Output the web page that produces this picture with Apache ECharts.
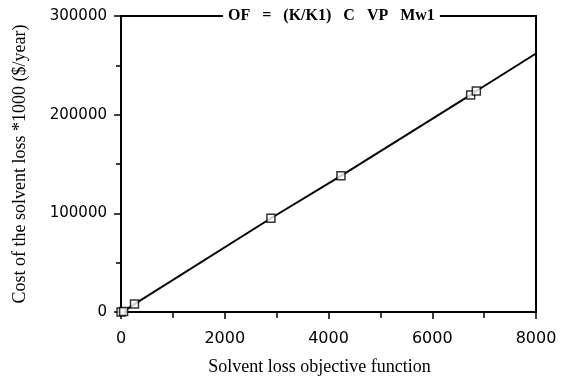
<!DOCTYPE html>
<html>
<head>
<meta charset="utf-8">
<script src="https://cdn.jsdelivr.net/npm/echarts@6/dist/echarts.min.js"></script>
<style>
  html, body { margin: 0; padding: 0; background: #fff; }
  #chart { width: 568px; height: 381px; }
</style>
</head>
<body>
<div id="chart"></div>
<script>
// Solvent loss objective function vs. yearly cost of the lost solvent
const objective = [0, 50, 260, 2890, 4240, 6740, 6850];
const cost = [0, 500, 8000, 95000, 138000, 220000, 224000];
// fitted line continues to the right edge of the plot
const lineEndX = 8000;
const lineEndY = 262000;

const titleText = 'OF   =   (K/K1)   C   VP   Mw1';
const xName = 'Solvent loss objective function';
const yName = 'Cost of the solvent loss *1000 ($/year)';

const points = objective.map((x, i) => [x, cost[i]]);
const linePoints = points.concat([[lineEndX, lineEndY]]);

const serif = '"Liberation Serif", "DejaVu Serif", serif';
const sans = '"DejaVu Sans", sans-serif';
const plain = v => String(v);

const chart = echarts.init(document.getElementById('chart'));
chart.setOption({
  animation: false,
  backgroundColor: '#fff',
  title: {
    text: titleText,
    left: 223,
    top: 8,
    padding: [0, 5],
    backgroundColor: '#fff',
    textStyle: { fontFamily: serif, fontWeight: 'bold', fontSize: 16, color: '#000' }
  },
  grid: {
    left: 121, right: 32, top: 16, bottom: 69,
    show: true, borderColor: '#000', borderWidth: 2, backgroundColor: 'transparent'
  },
  xAxis: {
    type: 'value', min: 0, max: 8000, interval: 2000,
    name: xName, nameLocation: 'middle', nameGap: 46,
    nameTextStyle: { fontFamily: serif, fontSize: 18, color: '#000', padding: [0, 18, 0, 0] },
    axisLine: { show: true, lineStyle: { color: '#000', width: 2 } },
    axisTick: { show: true, length: 7, lineStyle: { color: '#000', width: 1.5 } },
    minorTick: { show: true, splitNumber: 2, length: 6, lineStyle: { color: '#000', width: 1.5 } },
    axisLabel: { fontFamily: sans, fontSize: 16, color: '#000', margin: 19, formatter: plain },
    splitLine: { show: false }
  },
  yAxis: {
    type: 'value', min: 0, max: 300000, interval: 100000,
    name: yName, nameLocation: 'middle', nameGap: 92, nameRotate: 90,
    nameTextStyle: { fontFamily: serif, fontSize: 18, color: '#000' },
    axisLine: { show: true, lineStyle: { color: '#000', width: 2 } },
    axisTick: { show: true, length: 7, lineStyle: { color: '#000', width: 1.5 } },
    minorTick: { show: true, splitNumber: 2, length: 5, lineStyle: { color: '#000', width: 1.5 } },
    axisLabel: { fontFamily: sans, fontSize: 15, color: '#000', margin: 14, formatter: plain },
    splitLine: { show: false }
  },
  series: [
    {
      type: 'line',
      data: linePoints,
      showSymbol: false,
      lineStyle: { color: '#000', width: 2 },
      z: 2
    },
    {
      type: 'scatter',
      data: points,
      symbol: 'rect',
      symbolSize: 8,
      itemStyle: { color: '#fff', borderColor: '#000', borderWidth: 1.5 },
      z: 3
    }
  ]
});
</script>
</body>
</html>
